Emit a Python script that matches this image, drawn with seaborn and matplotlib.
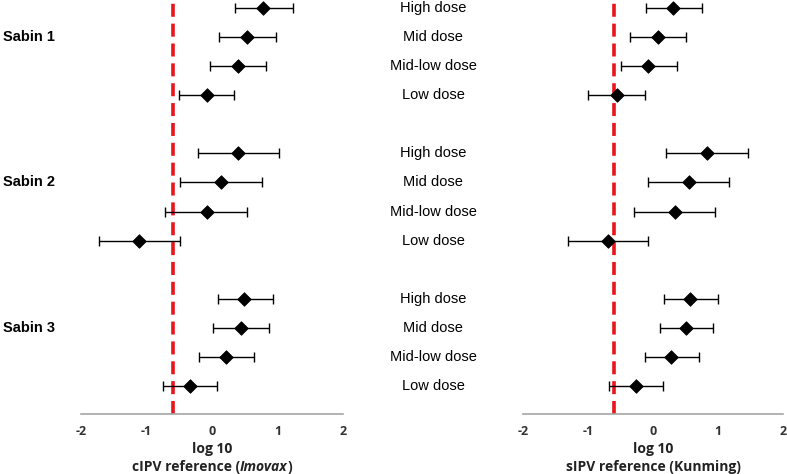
import numpy as np
import pandas as pd
import matplotlib
matplotlib.use("Agg")
import matplotlib.pyplot as plt
import matplotlib.transforms as mtransforms
import seaborn as sns

# ==========================================
# data (log10 ratio vs reference, with 95% CI)
# ==========================================
serotypes = ["Sabin 1", "Sabin 2", "Sabin 3"]
doses = ["High dose", "Mid dose", "Mid-low dose", "Low dose"]

# cIPV reference (Imovax)
cipv_est = [0.78, 0.53, 0.39, -0.08,
            0.40, 0.13, -0.08, -1.12,
            0.49, 0.44, 0.21, -0.33]
cipv_lo = [0.35, 0.11, -0.03, -0.51,
           -0.21, -0.49, -0.71, -1.72,
           0.09, 0.01, -0.20, -0.75]
cipv_hi = [1.23, 0.97, 0.82, 0.34,
           1.02, 0.76, 0.53, -0.49,
           0.93, 0.87, 0.64, 0.08]

# sIPV reference (Kunming)
sipv_est = [0.31, 0.08, -0.07, -0.55,
            0.83, 0.56, 0.34, -0.69,
            0.57, 0.51, 0.28, -0.26]
sipv_lo = [-0.11, -0.36, -0.49, -1.00,
           0.20, -0.07, -0.29, -1.31,
           0.17, 0.11, -0.13, -0.67]
sipv_hi = [0.75, 0.50, 0.37, -0.13,
           1.46, 1.17, 0.96, -0.07,
           1.00, 0.93, 0.71, 0.15]

cutoff = -0.6
xticks = [-2, -1, 0, 1, 2]

# row positions: 4 doses per serotype, blank row between groups
rows = [g * 5 + d for g in range(len(serotypes)) for d in range(len(doses))]

def make_df(est, lo, hi):
    return pd.DataFrame({
        "row": rows,
        "serotype": [s for s in serotypes for _ in doses],
        "dose": doses * len(serotypes),
        "est": est, "lo": lo, "hi": hi,
    })

df_c = make_df(cipv_est, cipv_lo, cipv_hi)
df_s = make_df(sipv_est, sipv_lo, sipv_hi)

# ==========================================
# plot
# ==========================================
sns.set_style("white")
plt.rcParams["font.family"] = ["Liberation Sans", "DejaVu Sans"]

fig = plt.figure(figsize=(7.87, 4.74), dpi=100)
ax1 = fig.add_axes([81 / 787, 1 - 414 / 474, 262 / 787, 414 / 474])
ax2 = fig.add_axes([523 / 787, 1 - 414 / 474, 260 / 787, 414 / 474])

lab_kw = dict(fontfamily="Open Sans", fontweight="bold", fontsize=10,
              color="#222222")

def draw_panel(ax, df, parts):
    ax.errorbar(df["est"], df["row"],
                xerr=[df["est"] - df["lo"], df["hi"] - df["est"]],
                fmt="none", ecolor="black", elinewidth=1.0,
                capsize=3.5, capthick=1.0, zorder=2)
    sns.scatterplot(data=df, x="est", y="row", marker="D", s=48,
                    color="black", edgecolor="black", ax=ax, zorder=3,
                    legend=False)
    ax.axvline(cutoff, color="#e8151b", lw=2.6, dashes=(3.6, 1.9), zorder=1)
    ax.set_xlim(-2, 2)
    ax.set_ylim(13.97, -0.28)
    ax.set_yticks([])
    ax.set_xticks(xticks)
    ax.set_xticklabels([str(t) for t in xticks], fontfamily="Open Sans",
                       fontweight="bold", fontsize=9, color="#333333")
    for s in ["top", "right", "left"]:
        ax.spines[s].set_visible(False)
    ax.spines["bottom"].set_color("#a6a6a6")
    ax.spines["bottom"].set_linewidth(1.2)
    ax.tick_params(axis="x", direction="out", length=4, width=1.0,
                   color="#a6a6a6", pad=4)
    ax.set_xlabel("")
    ax.set_ylabel("")
    ax.text(0.5, -0.085, "log 10", transform=ax.transAxes, ha="center",
            va="center", **lab_kw)
    # second line built from pieces so one word can be italic
    fig.canvas.draw()
    r = fig.canvas.get_renderer()
    pieces = []
    for txt, style in parts:
        pieces.append(ax.text(0, -0.128, txt, transform=ax.transAxes,
                              ha="left", va="center", fontstyle=style, **lab_kw))
    widths = [p.get_window_extent(r).width for p in pieces]
    total = sum(widths)
    bbox = ax.get_window_extent(r)
    x0 = bbox.x0 + bbox.width / 2 - total / 2
    for p, w in zip(pieces, widths):
        p.set_x((x0 - bbox.x0) / bbox.width)
        x0 += w

draw_panel(ax1, df_c, [("cIPV reference (", "normal"), ("Imovax", "italic"),
                       (")", "normal")])
draw_panel(ax2, df_s, [("sIPV reference (Kunming)", "normal")])

# dose labels in the middle and serotype labels on the left
trans = mtransforms.blended_transform_factory(fig.transFigure, ax1.transData)
for r, d in zip(df_c["row"], df_c["dose"]):
    fig.text(433 / 787, r, d, transform=trans, ha="center", va="center",
             fontsize=10.5, color="black")
for g, s in enumerate(serotypes):
    fig.text(3 / 787, g * 5 + 1, s, transform=trans, ha="left", va="center",
             fontsize=10.5, fontweight="bold", color="black")

fig.savefig("out.png", dpi=100)
